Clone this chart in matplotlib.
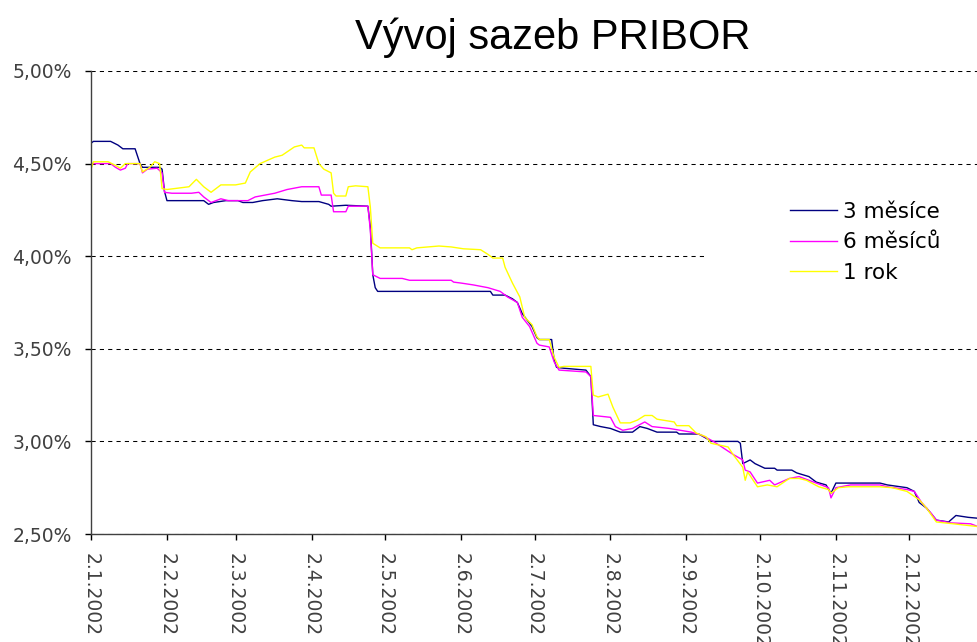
import datetime as dt
import matplotlib
matplotlib.use("Agg")
import matplotlib.pyplot as plt
from matplotlib.patches import Rectangle
from matplotlib.ticker import FuncFormatter

# --- Data: days since 2.1.2002, rate in % ---
start = dt.date(2002, 1, 2)

den_3m = [0, 1, 8, 11, 13, 18, 20, 21, 28, 29, 30, 31, 40, 46, 48, 50, 55, 60, 62, 66, 70, 76, 82, 86,
          93, 97, 98, 104, 113, 114, 115, 116, 117, 163, 164, 169, 172, 174, 176, 178, 180, 182, 183,
          188, 189, 190, 193, 202, 204, 205, 208, 212, 216, 221, 224, 227, 231, 239, 240, 248, 252,
          253, 264, 265, 266, 269, 271, 275, 279, 280, 286, 288, 293, 296, 300, 302, 304, 322, 325,
          333, 336, 338, 341, 345, 350, 353, 358, 362]
sazba_3m = [4.61, 4.62, 4.62, 4.60, 4.58, 4.58, 4.50, 4.48, 4.48, 4.47, 4.35, 4.30, 4.30, 4.30, 4.28,
            4.29, 4.30, 4.30, 4.29, 4.29, 4.30, 4.31, 4.30, 4.295, 4.295, 4.28, 4.27, 4.275, 4.27,
            4.16, 3.90, 3.83, 3.81, 3.81, 3.79, 3.79, 3.77, 3.75, 3.69, 3.655, 3.62, 3.56, 3.55, 3.55,
            3.44, 3.40, 3.395, 3.385, 3.35, 3.09, 3.08, 3.07, 3.05, 3.05, 3.08, 3.07, 3.05, 3.05, 3.04,
            3.04, 3.01, 3.00, 3.00, 2.99, 2.88, 2.90, 2.88, 2.855, 2.855, 2.845, 2.845, 2.83, 2.81,
            2.78, 2.765, 2.72, 2.775, 2.775, 2.765, 2.75, 2.73, 2.67, 2.64, 2.575, 2.565, 2.60, 2.59,
            2.585]

den_6m = [0, 8, 10, 12, 14, 15, 20, 21, 23, 27, 29, 30, 33, 41, 44, 46, 49, 53, 56, 64, 67, 71, 75,
          80, 86, 93, 94, 98, 99, 104, 105, 113, 114, 115, 118, 127, 130, 147, 148, 151, 156, 162,
          167, 170, 174, 176, 179, 182, 183, 187, 189, 191, 202, 204, 205, 212, 214, 217, 221, 226,
          229, 236, 245, 249, 254, 262, 266, 267, 269, 272, 277, 279, 285, 289, 296, 301, 302, 304,
          310, 322, 325, 333, 336, 339, 343, 345, 351, 359, 362]
sazba_6m = [4.50, 4.50, 4.48, 4.465, 4.475, 4.50, 4.50, 4.45, 4.47, 4.475, 4.45, 4.345, 4.34, 4.34,
            4.345, 4.32, 4.29, 4.31, 4.30, 4.30, 4.32, 4.33, 4.34, 4.36, 4.375, 4.375, 4.33, 4.33,
            4.24, 4.24, 4.27, 4.27, 4.14, 3.90, 3.88, 3.88, 3.87, 3.87, 3.86, 3.855, 3.845, 3.83,
            3.81, 3.78, 3.75, 3.67, 3.62, 3.53, 3.52, 3.51, 3.43, 3.385, 3.375, 3.35, 3.14, 3.13,
            3.08, 3.06, 3.07, 3.105, 3.08, 3.07, 3.05, 3.035, 3.00, 2.93, 2.90, 2.845, 2.835, 2.775,
            2.79, 2.765, 2.80, 2.81, 2.775, 2.75, 2.695, 2.75, 2.765, 2.765, 2.755, 2.74, 2.73, 2.67,
            2.61, 2.575, 2.56, 2.555, 2.54]

den_1r = [0, 1, 7, 10, 12, 14, 20, 21, 24, 26, 28, 29, 31, 40, 43, 46, 49, 51, 53, 59, 63, 65, 69,
          75, 78, 83, 86, 87, 91, 93, 95, 98, 99, 100, 104, 105, 108, 113, 114, 115, 118, 130, 131,
          133, 142, 147, 152, 159, 162, 164, 168, 169, 172, 175, 177, 180, 182, 183, 187, 189, 191,
          193, 204, 205, 207, 211, 213, 216, 220, 223, 226, 229, 231, 238, 239, 244, 247, 251, 253,
          260, 262, 266, 267, 268, 272, 276, 280, 285, 289, 292, 297, 301, 302, 305, 309, 322, 327,
          333, 338, 341, 345, 352, 362]
sazba_1r = [4.47, 4.51, 4.51, 4.49, 4.475, 4.50, 4.50, 4.455, 4.48, 4.51, 4.50, 4.365, 4.36, 4.375,
            4.415, 4.375, 4.345, 4.365, 4.385, 4.385, 4.395, 4.455, 4.50, 4.535, 4.545, 4.59, 4.60,
            4.585, 4.585, 4.50, 4.47, 4.45, 4.34, 4.325, 4.325, 4.375, 4.38, 4.375, 4.265, 4.07,
            4.045, 4.045, 4.035, 4.045, 4.055, 4.05, 4.04, 4.035, 4.01, 3.99, 3.99, 3.94, 3.855,
            3.78, 3.67, 3.63, 3.565, 3.55, 3.55, 3.455, 3.40, 3.405, 3.405, 3.25, 3.24, 3.255, 3.185,
            3.10, 3.10, 3.115, 3.14, 3.14, 3.12, 3.105, 3.085, 3.085, 3.045, 3.025, 2.99, 2.97, 2.93,
            2.86, 2.79, 2.835, 2.755, 2.765, 2.755, 2.80, 2.80, 2.79, 2.755, 2.74, 2.72, 2.75, 2.755,
            2.755, 2.75, 2.73, 2.685, 2.64, 2.565, 2.555, 2.54]

nazvy = ["3 měsíce", "6 měsíců", "1 rok"]
barvy = ["#000080", "#FF00FF", "#FFFF00"]
tick_dny = [dt.date(2002, m, 2) for m in range(1, 13)]


def to_dates(den):
    return [start + dt.timedelta(days=d) for d in den]


fig = plt.figure(figsize=(9.78, 6.42), dpi=100)
ax = fig.add_axes([91 / 978, 1 - 534 / 642, 1 - 91 / 978, (534 - 71) / 642])

for den, sazba, nazev, barva in zip([den_3m, den_6m, den_1r], [sazba_3m, sazba_6m, sazba_1r], nazvy, barvy):
    ax.plot(to_dates(den), sazba, color=barva, linewidth=1.0, label=nazev, zorder=2)

ax.set_ylim(2.5, 5.0)
ax.set_xlim(start, start + dt.timedelta(days=362))
ax.set_yticks([2.5, 3.0, 3.5, 4.0, 4.5, 5.0])
ax.yaxis.set_major_formatter(FuncFormatter(lambda v, p: f"{v:.2f}".replace(".", ",") + "%"))
ax.set_xticks(tick_dny)
ax.set_xticklabels([f"{d.day}.{d.month}.{d.year}" for d in tick_dny], rotation=270,
                   ha="center", va="top")

ax.set_axisbelow(True)
ax.yaxis.grid(True, color="black", linewidth=0.75, linestyle=(0, (4, 4)))
ax.xaxis.grid(False)

for s in ["top", "right"]:
    ax.spines[s].set_visible(False)
for s in ["left", "bottom"]:
    ax.spines[s].set_color("#404040")
    ax.spines[s].set_linewidth(1.0)
ax.tick_params(axis="both", direction="out", length=4, width=1, colors="black",
               labelcolor="#404040", labelsize=13.5)
ax.tick_params(axis="y", pad=10)
ax.tick_params(axis="x", pad=10)

# white background behind the legend (hides the grid there)
ax.add_patch(Rectangle((708 / 978, 1 - 292 / 642), 270 / 978, 100 / 642,
                       transform=fig.transFigure, facecolor="white", edgecolor="none", zorder=1))

ax.legend(loc="upper left", bbox_to_anchor=(790 / 978, 1 - 202 / 642), bbox_transform=fig.transFigure,
          frameon=False, fontsize=15.5, handlelength=2.2, handletextpad=0.25, labelspacing=0.48,
          borderpad=0, borderaxespad=0)

fig.text(553 / 978, 1 - 38 / 642, "Vývoj sazeb PRIBOR", fontsize=30, family="Liberation Sans",
         ha="center", va="center", color="black")

fig.savefig("out.png", dpi=100)
